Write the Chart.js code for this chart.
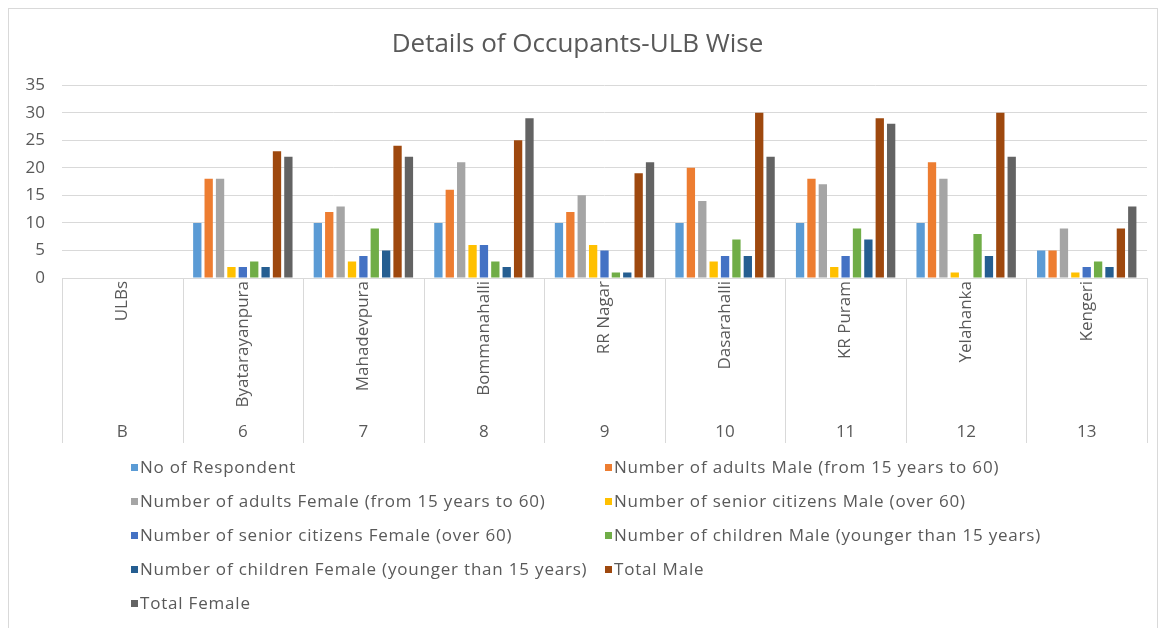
<!DOCTYPE html>
<html>
<head>
<meta charset="utf-8">
<script src="https://cdn.jsdelivr.net/npm/chart.js@4.4.1/dist/chart.umd.min.js"></script>
<style>
  body { margin: 0; background: #fff; }
  #wrap { position: relative; width: 1164px; height: 628px; }
  #frame { position: absolute; left: 8px; top: 8px; width: 1150px; height: 640px; border: 1px solid #d9d9d9; box-sizing: border-box; }
  #legend { position: absolute; left: 131px; top: 455px; display: grid; grid-template-columns: 474px 500px; font-family: "Open Sans", sans-serif; font-size: 17px; letter-spacing: 0.8px; color: #595959; }
  #legend div { height: 34px; line-height: 24px; white-space: nowrap; }
  #legend span.box { display: inline-block; width: 7px; height: 7px; margin-right: 2px; vertical-align: 2px; }
</style>
</head>
<body>
<div id="wrap">
  <div id="frame"></div>
  <canvas id="chart_root"></canvas>
  <div id="legend"></div>
</div>
<script>
// categories (two-level axis)
const ulbNames = ['ULBs', 'Byatarayanpura', 'Mahadevpura', 'Bommanahalli', 'RR Nagar', 'Dasarahalli', 'KR Puram', 'Yelahanka', 'Kengeri'];
const ulbCodes = ['B', '6', '7', '8', '9', '10', '11', '12', '13'];

// series values, one per ULB
const respondents   = [null, 10, 10, 10, 10, 10, 10, 10, 5];
const adultsMale    = [null, 18, 12, 16, 12, 20, 18, 21, 5];
const adultsFemale  = [null, 18, 13, 21, 15, 14, 17, 18, 9];
const seniorMale    = [null, 2, 3, 6, 6, 3, 2, 1, 1];
const seniorFemale  = [null, 2, 4, 6, 5, 4, 4, 0, 2];
const childMale     = [null, 3, 9, 3, 1, 7, 9, 8, 3];
const childFemale   = [null, 2, 5, 2, 1, 4, 7, 4, 2];
const totalMale     = [null, 23, 24, 25, 19, 30, 29, 30, 9];
const totalFemale   = [null, 22, 22, 29, 21, 22, 28, 22, 13];

const yTicks = [0, 5, 10, 15, 20, 25, 30, 35];

const seriesNames = [
  'No of Respondent',
  'Number of adults Male (from 15 years to 60)',
  'Number of adults Female (from 15 years to 60)',
  'Number of senior citizens Male (over 60)',
  'Number of senior citizens Female (over 60)',
  'Number of children Male (younger than 15 years)',
  'Number of children Female (younger than 15 years)',
  'Total Male',
  'Total Female'
];
const seriesData = [respondents, adultsMale, adultsFemale, seniorMale, seniorFemale, childMale, childFemale, totalMale, totalFemale];
const colors = ['#5B9BD5', '#ED7D31', '#A5A5A5', '#FFC000', '#4472C4', '#70AD47', '#255E91', '#9E480E', '#636363'];

const textColor = '#595959';
const gridColor = '#d9d9d9';
const font = '"Open Sans", sans-serif';

// vertical separators of the category axis, from the x scale
const separators = {
  id: 'separators',
  afterDraw(chart) {
    const xs = chart.scales.x;
    const x2 = chart.scales.x2;
    const step = xs.getPixelForValue(1) - xs.getPixelForValue(0);
    const c = chart.ctx;
    c.save();
    c.strokeStyle = gridColor;
    c.lineWidth = 1;
    for (let i = 0; i <= ulbNames.length; i++) {
      const px = Math.round(xs.getPixelForValue(i) - step / 2) + 0.5;
      c.beginPath();
      c.moveTo(px, chart.chartArea.bottom);
      c.lineTo(px, x2.bottom);
      c.stroke();
    }
    c.restore();
  }
};

const ctx = document.getElementById('chart_root');

const chart = new Chart(ctx, {
  type: 'bar',
  data: {
    labels: ulbNames,
    datasets: seriesNames.map((name, i) => ({
      label: name,
      data: seriesData[i],
      backgroundColor: colors[i],
      categoryPercentage: 0.85,
      barPercentage: 0.73
    }))
  },
  options: {
    responsive: true,
    maintainAspectRatio: false,
    animation: false,
    layout: { padding: { left: 8, right: 17, top: 8, bottom: 185 } },
    plugins: {
      legend: { display: false },
      tooltip: { enabled: false },
      title: {
        display: true,
        text: 'Details of Occupants-ULB Wise',
        color: textColor,
        font: { family: font, size: 26, weight: 'normal' },
        padding: { top: 21, bottom: 25 }
      }
    },
    scales: {
      x: {
        position: 'bottom',
        weight: 1,
        grid: { drawOnChartArea: false, drawTicks: false },
        border: { display: true, color: gridColor },
        ticks: {
          color: textColor,
          font: { family: font, size: 17 },
          minRotation: 90,
          maxRotation: 90,
          autoSkip: false,
          padding: 3
        },
        afterFit(scale) { scale.height = 140; }
      },
      x2: {
        position: 'bottom',
        weight: 2,
        labels: ulbCodes,
        grid: { display: false, drawTicks: false },
        border: { display: false },
        ticks: { color: textColor, font: { family: font, size: 17 }, padding: 4, autoSkip: false, maxRotation: 0 },
        afterFit(scale) { scale.height = 25; }
      },
      y: {
        min: 0,
        max: 35,
        afterBuildTicks(scale) { scale.ticks = yTicks.map(v => ({ value: v })); },
        grid: { color: gridColor, drawTicks: false },
        border: { display: false },
        ticks: { color: textColor, font: { family: font, size: 17 }, padding: 17 },
        afterFit(scale) { scale.width = 54; }
      }
    }
  },
  plugins: [separators]
});

// legend in two columns, built from the datasets
const legendDiv = document.getElementById('legend');
chart.data.datasets.forEach((ds) => {
  const item = document.createElement('div');
  const box = document.createElement('span');
  box.className = 'box';
  box.style.background = ds.backgroundColor;
  item.appendChild(box);
  item.appendChild(document.createTextNode(ds.label));
  legendDiv.appendChild(item);
});
</script>
</body>
</html>
